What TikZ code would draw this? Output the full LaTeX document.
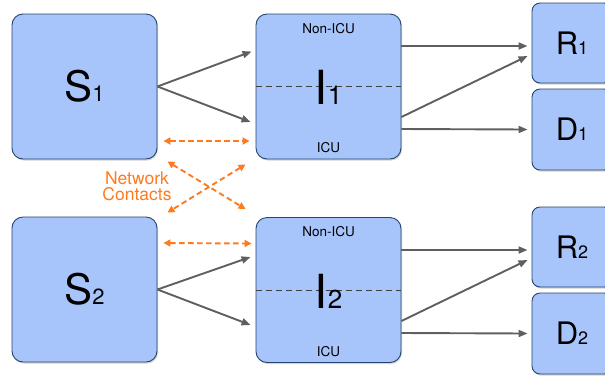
\documentclass[tikz,border=0pt]{standalone}
\usepackage{fontspec}
\setmainfont{TeX Gyre Heros}
\usetikzlibrary{arrows.meta,shadows}
\definecolor{boxfill}{RGB}{167,197,250}
\definecolor{boxline}{RGB}{38,68,108}
\definecolor{flowgray}{RGB}{95,95,95}
\definecolor{contactorange}{RGB}{255,122,30}
\newcommand{\comp}[4]{{\fontsize{#3}{#3}\selectfont #1{\fontsize{#4}{#4}\selectfont #2}}}
\newcommand{\wardfont}{\fontsize{13.5}{13.5}\selectfont}

\begin{document}
\begin{tikzpicture}[x=1pt,y=-1pt]
\tikzstyle{box}=[draw=boxline,fill=boxfill,line width=0.9pt,rounded corners=11pt,
  drop shadow={shadow xshift=1pt,shadow yshift=-1.5pt,opacity=0.35},
  minimum width=145pt,minimum height=145pt,inner sep=0pt]
\tikzstyle{outbox}=[box,rounded corners=8pt,minimum width=80pt,minimum height=80pt]
\tikzstyle{flow}=[draw=flowgray,line width=1.9pt,-{Triangle[length=9pt,width=7pt]}]
\tikzstyle{contact}=[draw=contactorange,line width=1.9pt,dash pattern=on 5.5pt off 3.5pt,
  {Triangle[length=7pt,width=7pt]}-{Triangle[length=7pt,width=7pt]}]
\tikzstyle{split}=[draw=black!75,line width=1pt,dash pattern=on 6pt off 4pt]
\useasboundingbox (0,0) rectangle (605,376);
% compartments
\node[box] (S1) at (84.5,86.5) {};
\node[box] (I1) at (328.5,86.5) {};
\node[outbox] (R1) at (572,43) {};
\node[outbox,minimum height=81pt] (D1) at (572,129.5) {};
\node[box] (S2) at (84.5,289.5) {};
\node[box] (I2) at (328.5,290) {};
\node[outbox] (R2) at (572,247) {};
\node[outbox,minimum height=81pt] (D2) at (572,333.5) {};
% ICU split
\draw[split] (I1.west) -- (I1.east);
\draw[split] (I2.west) -- (I2.east);
% labels
\node (S1lbl) at (S1) {\comp{S}{1}{42}{22}};
\node (S2lbl) at (S2) {\comp{S}{2}{42}{22}};
\node (I1lbl) at ([yshift=-1pt]I1) {\comp{I}{1}{47}{26}};
\node (I2lbl) at ([yshift=-1pt]I2) {\comp{I}{2}{47}{26}};
\node (R1lbl) at (R1) {\comp{R}{1}{31}{18}};
\node (D1lbl) at (D1) {\comp{D}{1}{31}{18}};
\node (R2lbl) at (R2) {\comp{R}{2}{31}{18}};
\node (D2lbl) at (D2) {\comp{D}{2}{31}{18}};
\node (I1top) at ([yshift=-15pt]I1.north) {\wardfont Non-ICU};
\node (I1bot) at ([yshift=12pt]I1.south) {\wardfont ICU};
\node (I2top) at ([yshift=-15pt]I2.north) {\wardfont Non-ICU};
\node (I2bot) at ([yshift=11pt]I2.south) {\wardfont ICU};
% transitions
\draw[flow] (S1.east) -- ([xshift=-4pt,yshift=35pt]I1.west);
\draw[flow] (S1.east) -- ([xshift=-5pt,yshift=-35.5pt]I1.west);
\draw[flow] ([yshift=40.5pt]I1.east) -- ([xshift=-4pt,yshift=-3pt]R1.west);
\draw[flow] ([yshift=-30.5pt]I1.east) -- ([xshift=-4pt,yshift=-13pt]R1.west);
\draw[flow] ([yshift=-42.5pt]I1.east) -- ([xshift=-4pt]D1.west);
\draw[flow] (S2.east) -- ([xshift=-5pt,yshift=33pt]I2.west);
\draw[flow] (S2.east) -- ([xshift=-5pt,yshift=-35pt]I2.west);
\draw[flow] ([yshift=40pt]I2.east) -- ([xshift=-4pt,yshift=-3pt]R2.west);
\draw[flow] ([yshift=-31pt]I2.east) -- ([xshift=-4pt,yshift=-13pt]R2.west);
\draw[flow] ([yshift=-43pt]I2.east) -- ([xshift=-4pt]D2.west);
% network contacts
\draw[contact] ([xshift=6pt,yshift=-54.5pt]S1.east) -- ([xshift=-6pt,yshift=-54.5pt]I1.west);
\draw[contact] ([xshift=10pt,yshift=-2pt]S1.south east) -- ([xshift=-10pt,yshift=8pt]I2.north west);
\draw[contact] ([xshift=-10pt,yshift=-5pt]I1.south west) -- ([xshift=10pt,yshift=4pt]S2.north east);
\draw[contact] ([xshift=6pt,yshift=46.5pt]S2.east) -- ([xshift=-4pt,yshift=46.5pt]I2.west);
\node[text=contactorange,align=center,font=\fontsize{17.5}{16}\selectfont] (contacts) at (137,186) {Network\\Contacts};
\end{tikzpicture}
\end{document}
